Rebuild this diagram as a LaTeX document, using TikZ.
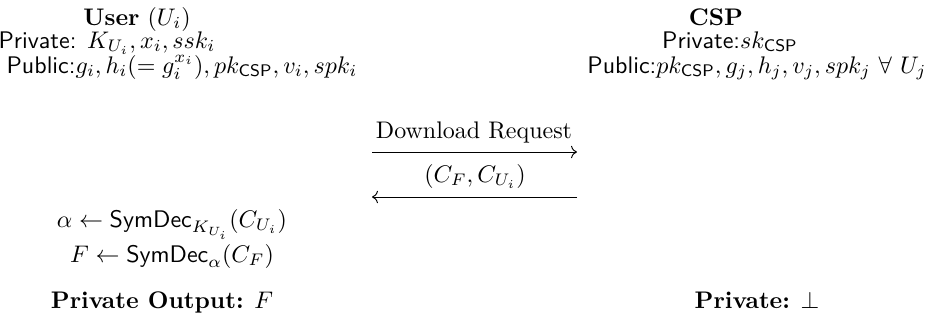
\documentclass[tikz,border=0pt]{standalone}
\usepackage{amsmath,amssymb}
\usetikzlibrary{arrows.meta}
\newcommand{\sfx}[1]{\textsf{#1}}
\begin{document}
\begin{tikzpicture}[x=0.41667pt,y=-0.41667pt,
  lbl/.style={inner sep=0pt,anchor=base},
  msg/.style={line width=0.4pt,-{Computer Modern Rightarrow}}]
\useasboundingbox (0,0) rectangle (928,326);
% user column
\node[lbl] (uhead) at (137,25) {\textbf{User} $(U_i)$};
\node[lbl] (upriv) at (107,48) {\sfx{Private:} $K_{U_i}, x_i, ssk_i$};
\node[lbl] (upub) at (182,73) {\sfx{Public:}$g_i, h_i(= g_i^{x_i}), pk_{\mathsf{CSP}}, v_i, spk_i$};
% server column
\node[lbl] (shead) at (716,25) {\textbf{CSP}};
\node[lbl] (spriv) at (730,48) {\sfx{Private:}$sk_{\mathsf{CSP}}$};
\node[lbl] (spub) at (757,73) {\sfx{Public:}$pk_{\mathsf{CSP}}, g_j, h_j, v_j, spk_j\ \forall\ U_j$};
% messages
\coordinate (aL1) at (372,152);
\coordinate (aR1) at (577,152);
\coordinate (aL2) at (372,197);
\coordinate (aR2) at (577,197);
\node[lbl] (m1) at (474,138) {Download Request};
\node[lbl] (m2) at (475,182) {$(C_F, C_{U_i})$};
\draw[msg] (aL1) -- (aR1);
\draw[msg] (aR2) -- (aL2);
% user computation
\node[lbl] (c1) at (172,227) {$\alpha \leftarrow \mathsf{SymDec}_{K_{U_i}}(C_{U_i})$};
\node[lbl] (c2) at (172,262) {$F \leftarrow \mathsf{SymDec}_{\alpha}(C_F)$};
% outputs
\node[lbl] (uout) at (162,308) {\textbf{Private Output:} $F$};
\node[lbl] (sout) at (757,308) {\textbf{Private:} $\perp$};
\end{tikzpicture}
\end{document}
